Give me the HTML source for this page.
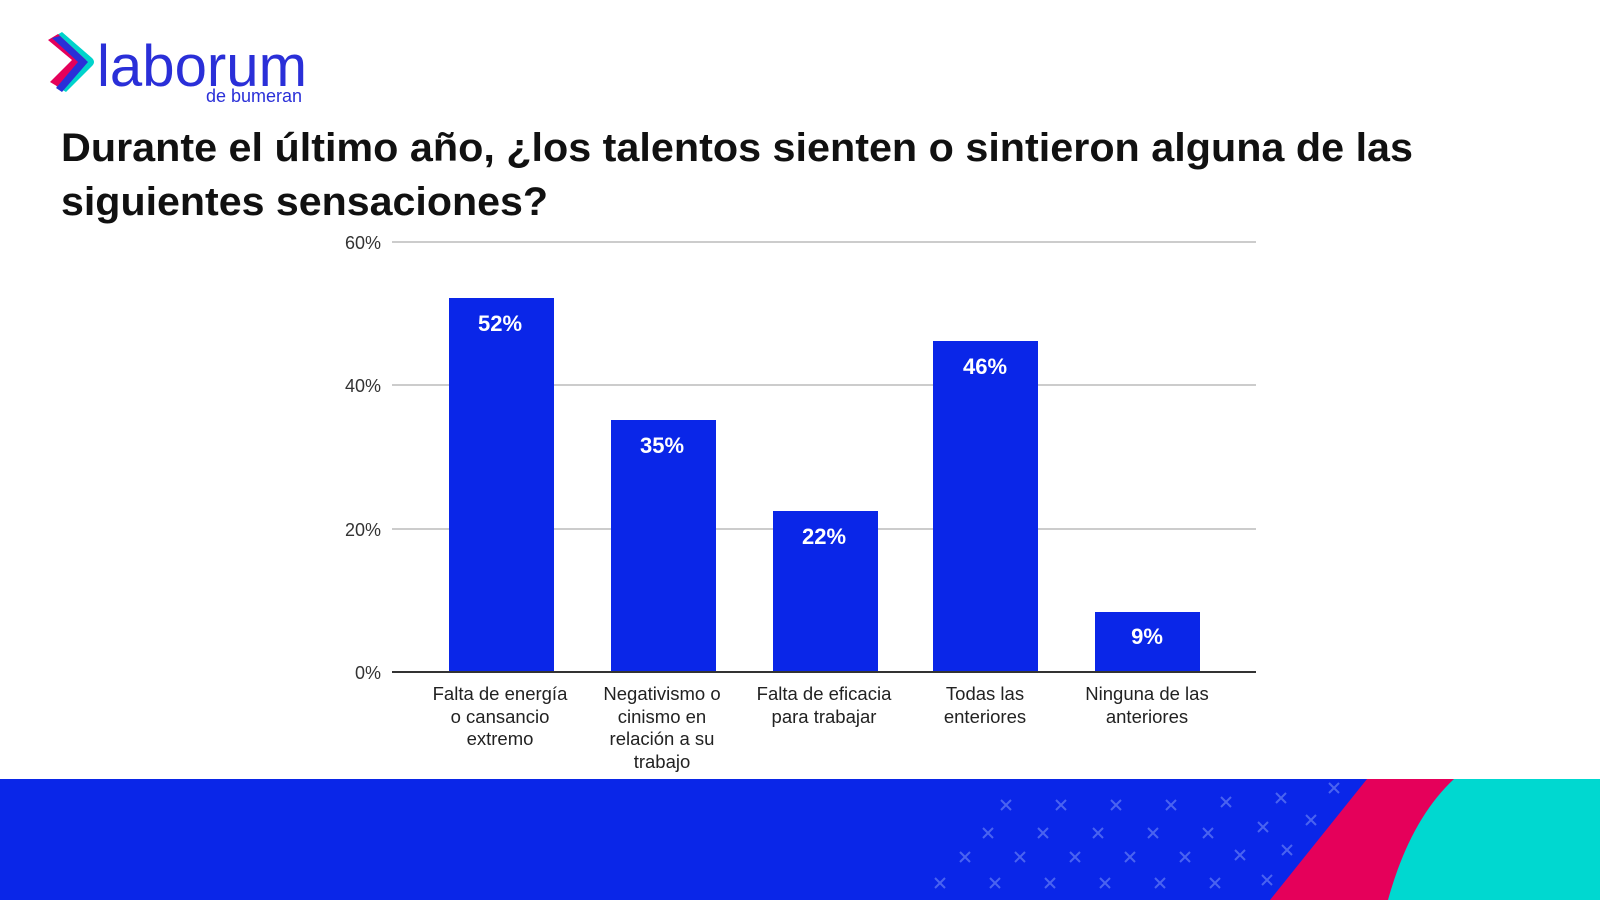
<!DOCTYPE html>
<html><head><meta charset="utf-8"><style>
html,body{margin:0;padding:0;background:#fff;}
svg{display:block;}
</style></head><body>
<svg width="1600" height="900" viewBox="0 0 1600 900" xmlns="http://www.w3.org/2000/svg" font-family="Liberation Sans, Arial, sans-serif">
<rect width="1600" height="900" fill="#fff"/>
<!-- logo -->
<path d="M52 38 L62 32 L92 58 Q96 62 92 66 L66 92 L56 86 L78 62 Z" fill="#00d3cc"/>
<path d="M48 40 L58 34 L86 60 L60 88 L50 82 L72 60 Z" fill="#e5005a"/>
<path d="M52 38 L60 36 L88 62 L62 92 L56 88 L78 62 Z" fill="#2a2fd8"/>
<text x="97" y="86" font-size="58" fill="#2a2fd8" textLength="210" lengthAdjust="spacingAndGlyphs">laborum</text>
<text x="206" y="102" font-size="18" fill="#2a2fd8">de bumeran</text>
<!-- title -->
<text x="61" y="161" font-size="40" font-weight="bold" fill="#111" textLength="1352" lengthAdjust="spacingAndGlyphs">Durante el último año, ¿los talentos sienten o sintieron alguna de las</text>
<text x="61" y="215" font-size="40" font-weight="bold" fill="#111" textLength="487" lengthAdjust="spacingAndGlyphs">siguientes sensaciones?</text>
<!-- grid -->
<g stroke="#cccccc" stroke-width="2">
<line x1="392" y1="242" x2="1256" y2="242"/>
<line x1="392" y1="385" x2="1256" y2="385"/>
<line x1="392" y1="529" x2="1256" y2="529"/>
</g>
<g font-size="18" fill="#333" text-anchor="end">
<text x="381" y="249">60%</text>
<text x="381" y="392">40%</text>
<text x="381" y="536">20%</text>
<text x="381" y="679">0%</text>
</g>
<!-- bars -->
<g fill="#0a26e8">
<rect x="449" y="298" width="105" height="373"/>
<rect x="611" y="420" width="105" height="251"/>
<rect x="773" y="511" width="105" height="160"/>
<rect x="933" y="341" width="105" height="330"/>
<rect x="1095" y="612" width="105" height="59"/>
</g>
<line x1="392" y1="672" x2="1256" y2="672" stroke="#333" stroke-width="2"/>
<g font-size="22" font-weight="bold" fill="#fff" text-anchor="middle">
<text x="500" y="331">52%</text>
<text x="662" y="453">35%</text>
<text x="824" y="544">22%</text>
<text x="985" y="374">46%</text>
<text x="1147" y="644">9%</text>
</g>
<g font-size="18.5" fill="#222" text-anchor="middle">
<text x="500" y="700">Falta de energía</text><text x="500" y="723">o cansancio</text><text x="500" y="745">extremo</text>
<text x="662" y="700">Negativismo o</text><text x="662" y="723">cinismo en</text><text x="662" y="745">relación a su</text><text x="662" y="768">trabajo</text>
<text x="824" y="700">Falta de eficacia</text><text x="824" y="723">para trabajar</text>
<text x="985" y="700">Todas las</text><text x="985" y="723">enteriores</text>
<text x="1147" y="700">Ninguna de las</text><text x="1147" y="723">anteriores</text>
</g>
<!-- bottom band -->
<rect x="0" y="779" width="1600" height="121" fill="#0a26e8"/>
<g stroke="#4a63f0" stroke-width="2">
<path d="M1001 800l10 10m0-10l-10 10 M1056 800l10 10m0-10l-10 10 M1111 800l10 10m0-10l-10 10 M1166 800l10 10m0-10l-10 10 M1221 797l10 10m0-10l-10 10 M1276 793l10 10m0-10l-10 10 M1329 783l10 10m0-10l-10 10
M983 828l10 10m0-10l-10 10 M1038 828l10 10m0-10l-10 10 M1093 828l10 10m0-10l-10 10 M1148 828l10 10m0-10l-10 10 M1203 828l10 10m0-10l-10 10 M1258 822l10 10m0-10l-10 10 M1306 815l10 10m0-10l-10 10
M960 852l10 10m0-10l-10 10 M1015 852l10 10m0-10l-10 10 M1070 852l10 10m0-10l-10 10 M1125 852l10 10m0-10l-10 10 M1180 852l10 10m0-10l-10 10 M1235 850l10 10m0-10l-10 10 M1282 845l10 10m0-10l-10 10
M935 878l10 10m0-10l-10 10 M990 878l10 10m0-10l-10 10 M1045 878l10 10m0-10l-10 10 M1100 878l10 10m0-10l-10 10 M1155 878l10 10m0-10l-10 10 M1210 878l10 10m0-10l-10 10 M1262 875l10 10m0-10l-10 10"/>
</g>
<path d="M1367 779 L1600 779 L1600 900 L1270 900 Z" fill="#e5005a"/>
<path d="M1454 779 L1600 779 L1600 900 L1388 900 Q1410 820 1454 779 Z" fill="#00d8d0"/>
</svg>
</body></html>
